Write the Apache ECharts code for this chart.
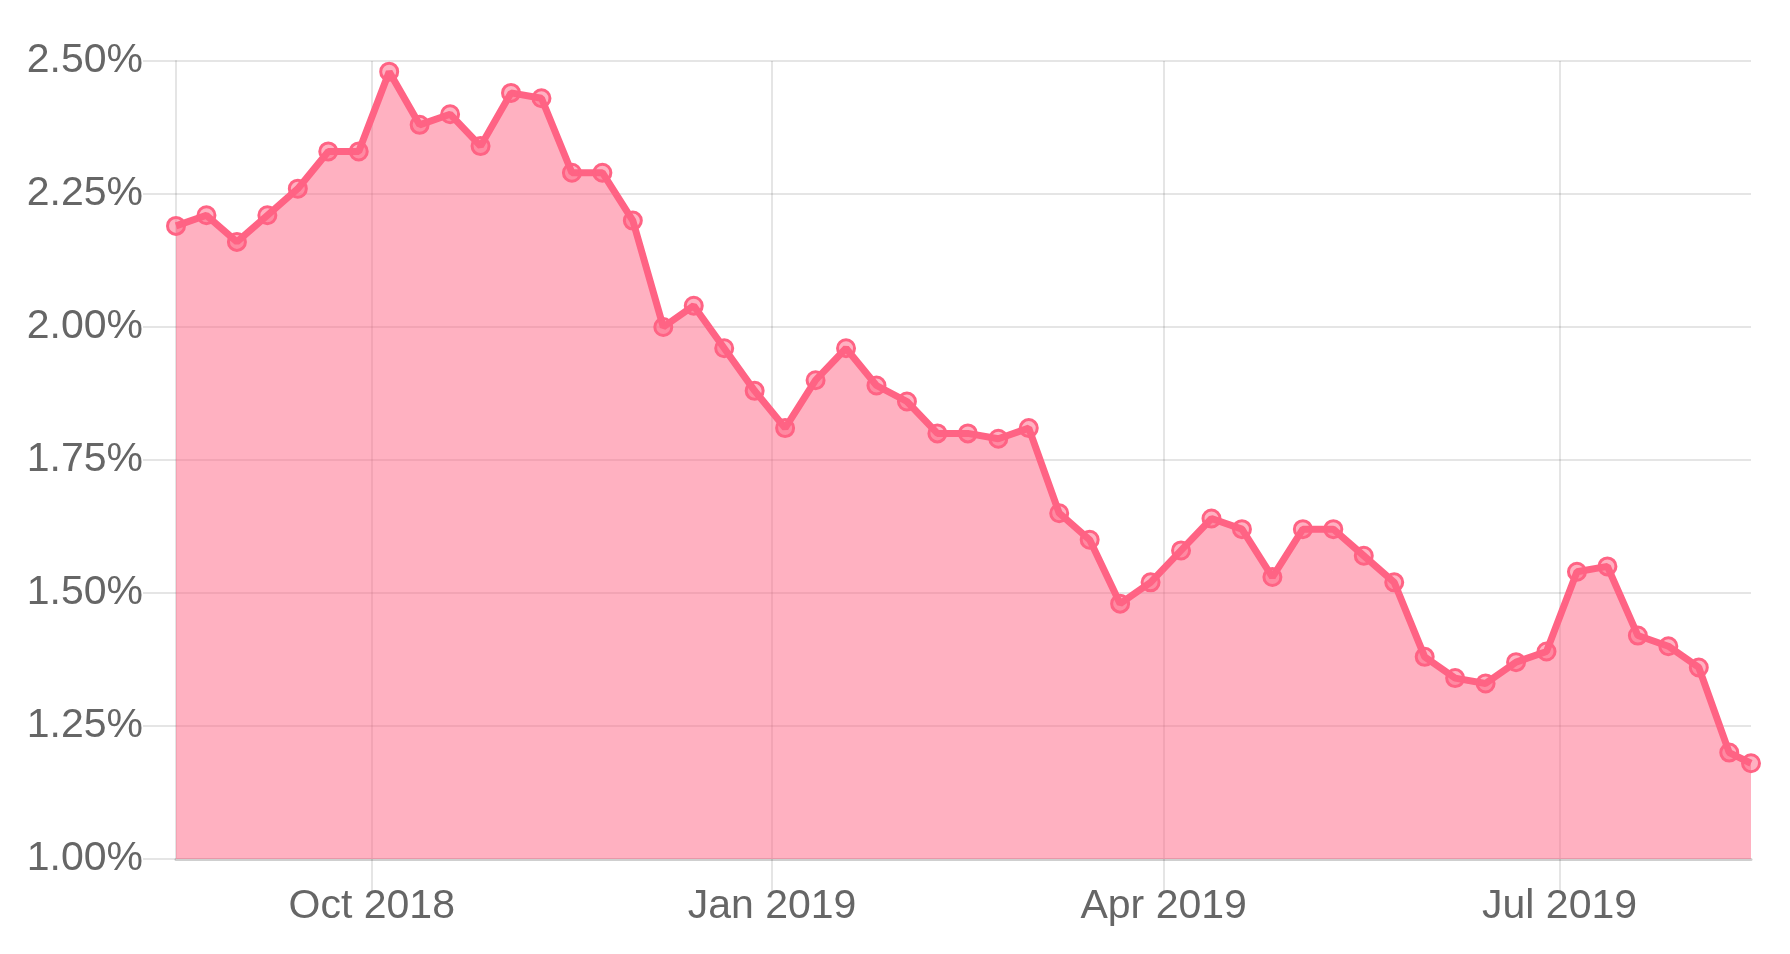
<!DOCTYPE html>
<html>
<head>
<meta charset="utf-8">
<script src="https://cdn.jsdelivr.net/npm/echarts@6/dist/echarts.min.js"></script>
<style>
  html, body { margin: 0; padding: 0; background: #fff; }
  #main { width: 1790px; height: 954px; }
</style>
</head>
<body>
<div id="main"></div>
<script>
// weekly dates (last point is a mid-week reading)
var dates = [
  '2018-08-17', '2018-08-24', '2018-08-31', '2018-09-07', '2018-09-14', '2018-09-21', '2018-09-28',
  '2018-10-05', '2018-10-12', '2018-10-19', '2018-10-26', '2018-11-02', '2018-11-09', '2018-11-16',
  '2018-11-23', '2018-11-30', '2018-12-07', '2018-12-14', '2018-12-21', '2018-12-28', '2019-01-04',
  '2019-01-11', '2019-01-18', '2019-01-25', '2019-02-01', '2019-02-08', '2019-02-15', '2019-02-22',
  '2019-03-01', '2019-03-08', '2019-03-15', '2019-03-22', '2019-03-29', '2019-04-05', '2019-04-12',
  '2019-04-19', '2019-04-26', '2019-05-03', '2019-05-10', '2019-05-17', '2019-05-24', '2019-05-31',
  '2019-06-07', '2019-06-14', '2019-06-21', '2019-06-28', '2019-07-05', '2019-07-12', '2019-07-19',
  '2019-07-26', '2019-08-02', '2019-08-09', '2019-08-14'
];
// rate in %
var rates = [
  2.19, 2.21, 2.16, 2.21, 2.26, 2.33, 2.33,
  2.48, 2.38, 2.40, 2.34, 2.44, 2.43, 2.29,
  2.29, 2.20, 2.00, 2.04, 1.96, 1.88, 1.81,
  1.90, 1.96, 1.89, 1.86, 1.80, 1.80, 1.79,
  1.81, 1.65, 1.60, 1.48, 1.52, 1.58, 1.64,
  1.62, 1.53, 1.62, 1.62, 1.57, 1.52, 1.38,
  1.34, 1.33, 1.37, 1.39, 1.54, 1.55, 1.42,
  1.40, 1.36, 1.20, 1.18
];
// quarter ticks on the x axis
var quarterTicks = ['2018-10-01', '2019-01-01', '2019-04-01', '2019-07-01'];
var monthNames = ['Jan', 'Feb', 'Mar', 'Apr', 'May', 'Jun', 'Jul', 'Aug', 'Sep', 'Oct', 'Nov', 'Dec'];

function toTime(s) {
  var p = s.split('-');
  return new Date(+p[0], +p[1] - 1, +p[2]).getTime();
}

var seriesData = dates.map(function (d, i) { return [toTime(d), rates[i]]; });
var tickTimes = quarterTicks.map(toTime);

var gridColor = 'rgba(0,0,0,0.1)';
var chart = echarts.init(document.getElementById('main'));
chart.setOption({
  animation: false,
  grid: { left: 176, right: 39, top: 61, bottom: 95 },
  xAxis: {
    type: 'value',
    min: toTime(dates[0]),
    max: toTime(dates[dates.length - 1]),
    axisLine: { show: true, lineStyle: { color: '#cfcfcf', width: 3 } },
    axisTick: {
      show: true, length: 33, customValues: tickTimes,
      lineStyle: { color: gridColor, width: 2 }
    },
    axisLabel: {
      customValues: tickTimes,
      margin: 27,
      fontSize: 41,
      fontFamily: 'Liberation Sans, Arial, sans-serif',
      color: '#666',
      formatter: function (v) {
        var d = new Date(v);
        return monthNames[d.getMonth()] + ' ' + d.getFullYear();
      }
    },
    splitLine: { show: true, lineStyle: { color: gridColor, width: 2 } }
  },
  yAxis: {
    type: 'value',
    min: 1.0,
    max: 2.5,
    interval: 0.25,
    axisLine: { show: true, lineStyle: { color: gridColor, width: 2 } },
    axisTick: { show: true, length: 33, lineStyle: { color: gridColor, width: 2 } },
    axisLabel: {
      margin: 33,
      fontSize: 41,
      fontFamily: 'Liberation Sans, Arial, sans-serif',
      color: '#666',
      formatter: function (v) { return v.toFixed(2) + '%'; }
    },
    splitLine: { show: true, lineStyle: { color: gridColor, width: 2 } }
  },
  series: [{
    type: 'line',
    data: seriesData,
    symbol: 'circle',
    symbolSize: 17,
    showAllSymbol: true,
    lineStyle: { color: '#ff6384', width: 7 },
    itemStyle: { color: 'rgba(255,99,132,0.5)', borderColor: '#ff6384', borderWidth: 3 },
    areaStyle: { color: 'rgba(255,99,132,0.5)', opacity: 1, origin: 'start' }
  }]
});
</script>
</body>
</html>
